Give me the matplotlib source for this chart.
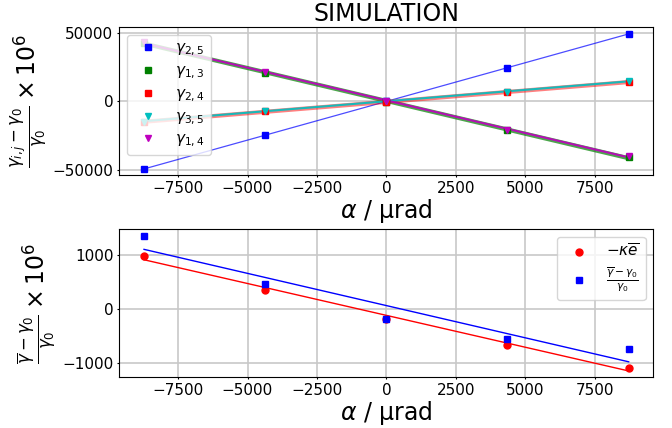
import numpy as np
import matplotlib
matplotlib.use("Agg")
import matplotlib.pyplot as plt

# tilt angles in microradians
alpha = [-8727, -4363, 0, 4363, 8727]

# relative change (x 1e6) of each gamma_ij
g25 = [-49500, -24800, 0, 24500, 49500]
g13 = [43000, 21000, -300, -21000, -41000]
g24 = [-15200, -7400, -300, 6900, 14000]
g35 = [-14800, -7000, 300, 7200, 14600]
g14 = [43200, 21200, 200, -20700, -40300]

# bottom panel
kappa_e = [980, 346, -183, -670, -1093]
gbar = [1346, 452, -186, -572, -752]

x = np.array(alpha, dtype=float)


def fit(y):
    p = np.polyfit(x, y, 1)
    return np.polyval(p, x)


fig = plt.figure(figsize=(6.72, 4.28), dpi=100)
ax1 = fig.add_axes([0.177, 0.591, 0.795, 0.346])
ax2 = fig.add_axes([0.177, 0.119, 0.795, 0.346])

gridkw = dict(color="#c8c8c8", lw=1.2)

# top panel: fitted lines + points
ax1.plot(x, fit(g25), color="blue", lw=0.9, alpha=0.7)
ax1.plot(x, fit(g13), color="green", lw=3, alpha=0.7)
ax1.plot(x, fit(g24), color="red", lw=3, alpha=0.5)
ax1.plot(x, fit(g35), color="c", lw=1.5, alpha=0.9)
ax1.plot(x, fit(g14), color="m", lw=1.5, alpha=0.9)

ax1.plot(x, g25, "s", color="blue", ms=5, label=r"$\gamma_{2,5}$")
ax1.plot(x, g13, "s", color="green", ms=5, label=r"$\gamma_{1,3}$")
ax1.plot(x, g24, "s", color="red", ms=5, label=r"$\gamma_{2,4}$")
ax1.plot(x, g35, "v", color="c", ms=5, label=r"$\gamma_{3,5}$")
ax1.plot(x, g14, "v", color="m", ms=5, label=r"$\gamma_{1,4}$")

ax1.set_ylim(-54000, 54500)
ax1.set_yticks([-50000, 0, 50000])
ax1.grid(True, **gridkw)
ax1.set_axisbelow(True)
ax1.set_title("SIMULATION", fontsize=17, pad=4)
ax1.set_xlabel(r"$\alpha$ / µrad", fontsize=17, labelpad=1)
ax1.set_ylabel(r"$\frac{\gamma_{i,j}-\gamma_0}{\gamma_0}\times 10^6$", fontsize=17, labelpad=2)
ax1.legend(loc="upper left", fontsize=11, numpoints=1, labelspacing=0.33)

# bottom panel
ax2.plot(x, fit(kappa_e), color="red", lw=1)
ax2.plot(x, fit(gbar), color="blue", lw=1)
ax2.plot(x, kappa_e, "o", color="red", ms=5, label=r"$-\kappa\overline{e}$")
ax2.plot(x, gbar, "s", color="blue", ms=5, label=r"$\frac{\overline{\gamma}-\gamma_0}{\gamma_0}$")

ax2.set_ylim(-1270, 1480)
ax2.set_yticks([-1000, 0, 1000])
ax2.grid(True, **gridkw)
ax2.set_axisbelow(True)
ax2.set_xlabel(r"$\alpha$ / µrad", fontsize=17, labelpad=1)
ax2.set_ylabel(r"$\frac{\overline{\gamma}-\gamma_0}{\gamma_0}\times 10^6$", fontsize=17, labelpad=2)
ax2.legend(loc="upper right", fontsize=11, numpoints=1, labelspacing=0.4)

for ax in (ax1, ax2):
    ax.set_xlim(-9630, 9610)
    ax.set_xticks([-7500, -5000, -2500, 0, 2500, 5000, 7500])
    ax.tick_params(labelsize=11, length=1.5, pad=2.5)

fig.savefig("out.png", dpi=100)
